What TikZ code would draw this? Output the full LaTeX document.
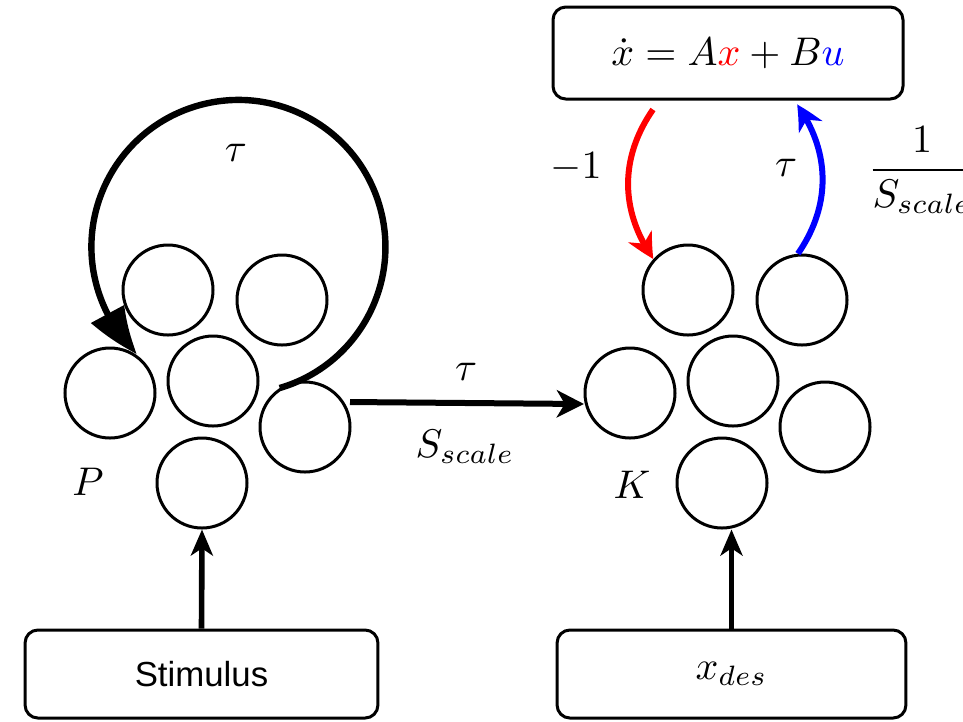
\documentclass[tikz,border=0pt]{standalone}
\usepackage{fontspec}
\newfontfamily\sansf{Liberation Sans}
\usetikzlibrary{arrows.meta,bending,calc}
\begin{document}
\begin{tikzpicture}[x=0.25pt,y=0.25pt,
  neuron/.style={circle,draw,line width=0.75pt,minimum size=22.5pt,inner sep=0pt},
  rbox/.style={draw,rounded corners=3.2pt,line width=0.75pt,inner sep=0pt},
  thickarr/.style={line width=1.5pt,-{Stealth[length=6.8pt,width=6.8pt,inset=2pt]}},
  curvearr/.style={line width=1.5pt,-{Stealth[length=6.5pt,width=6.5pt,inset=2pt,bend]}},
  looparr/.style={line width=1.6pt,-{Triangle[length=12.5pt,width=9pt,bend]}},
  upar/.style={line width=1.4pt,-{Stealth[length=6.5pt,width=5.5pt,inset=1.8pt]}},
  lbl/.style={inner sep=0pt}
]
\useasboundingbox (0,0) rectangle (963,-721);

% left cluster P
\node[neuron] (p1) at (168,-290) {};
\node[neuron] (p2) at (282,-300) {};
\node[neuron] (p3) at (110,-393) {};
\node[neuron] (p4) at (213,-381) {};
\node[neuron] (p5) at (305,-427) {};
\node[neuron] (p6) at (202,-483) {};

% right cluster K
\node[neuron] (k1) at (688,-290) {};
\node[neuron] (k2) at (802,-300) {};
\node[neuron] (k3) at (630,-393) {};
\node[neuron] (k4) at (733,-381) {};
\node[neuron] (k5) at (825,-427) {};
\node[neuron] (k6) at (722,-483) {};

% boxes
\node[rbox,minimum width=87.5pt,minimum height=23pt] (eq) at (728,-53)
  {$\dot{x} = A{\color{red}x} + B{\color{blue}u}$};
\node[rbox,minimum width=88.2pt,minimum height=22pt] (stim) at (201.5,-674)
  {\sansf\fontsize{8.7}{10}\selectfont Stimulus};
\node[rbox,minimum width=87.2pt,minimum height=22pt] (xdes) at (731.5,-674)
  {$x_{des}$};

% labels
\node[lbl] (tauloop) at (236,-153) {$\tau$};
\node[lbl] (labP) at (88,-482) {$P$};
\node[lbl] (labK) at (632,-485) {$K$};
\node[lbl] (tauh) at (466,-372) {$\tau$};
\node[lbl] (sh) at (465,-447) {$S_{scale}$};
\node[lbl] (m1) at (576,-167) {$-1$};
\node[lbl] (taur) at (786,-168) {$\tau$};
\node[lbl] (frac) at (922,-170) {$\displaystyle\frac{1}{S_{scale}}$};

% recurrent loop
\draw[looparr] (p5.123) arc[start angle=-73.7,end angle=226.6,radius=36.75pt];

% P -> K
\coordinate (hs) at ($(p5.center)+(45,25)$);
\coordinate (he) at ($(k3.center)+(-46,-11)$);
\draw[thickarr] (hs) -- (he);

% K <-> equation
\coordinate (rs) at ($(eq.south)+(-75,-9)$);
\coordinate (be) at ($(eq.south)+(69,-4)$);
\draw[curvearr,red] (rs) to[bend right=35] (k1.138);
\draw[curvearr,blue] (k2.95) to[bend right=35] (be);

% inputs
\draw[upar] (stim.north) -- (p6.south);
\draw[upar] (xdes.north) -- (xdes.north |- k6.south);
\end{tikzpicture}
\end{document}
